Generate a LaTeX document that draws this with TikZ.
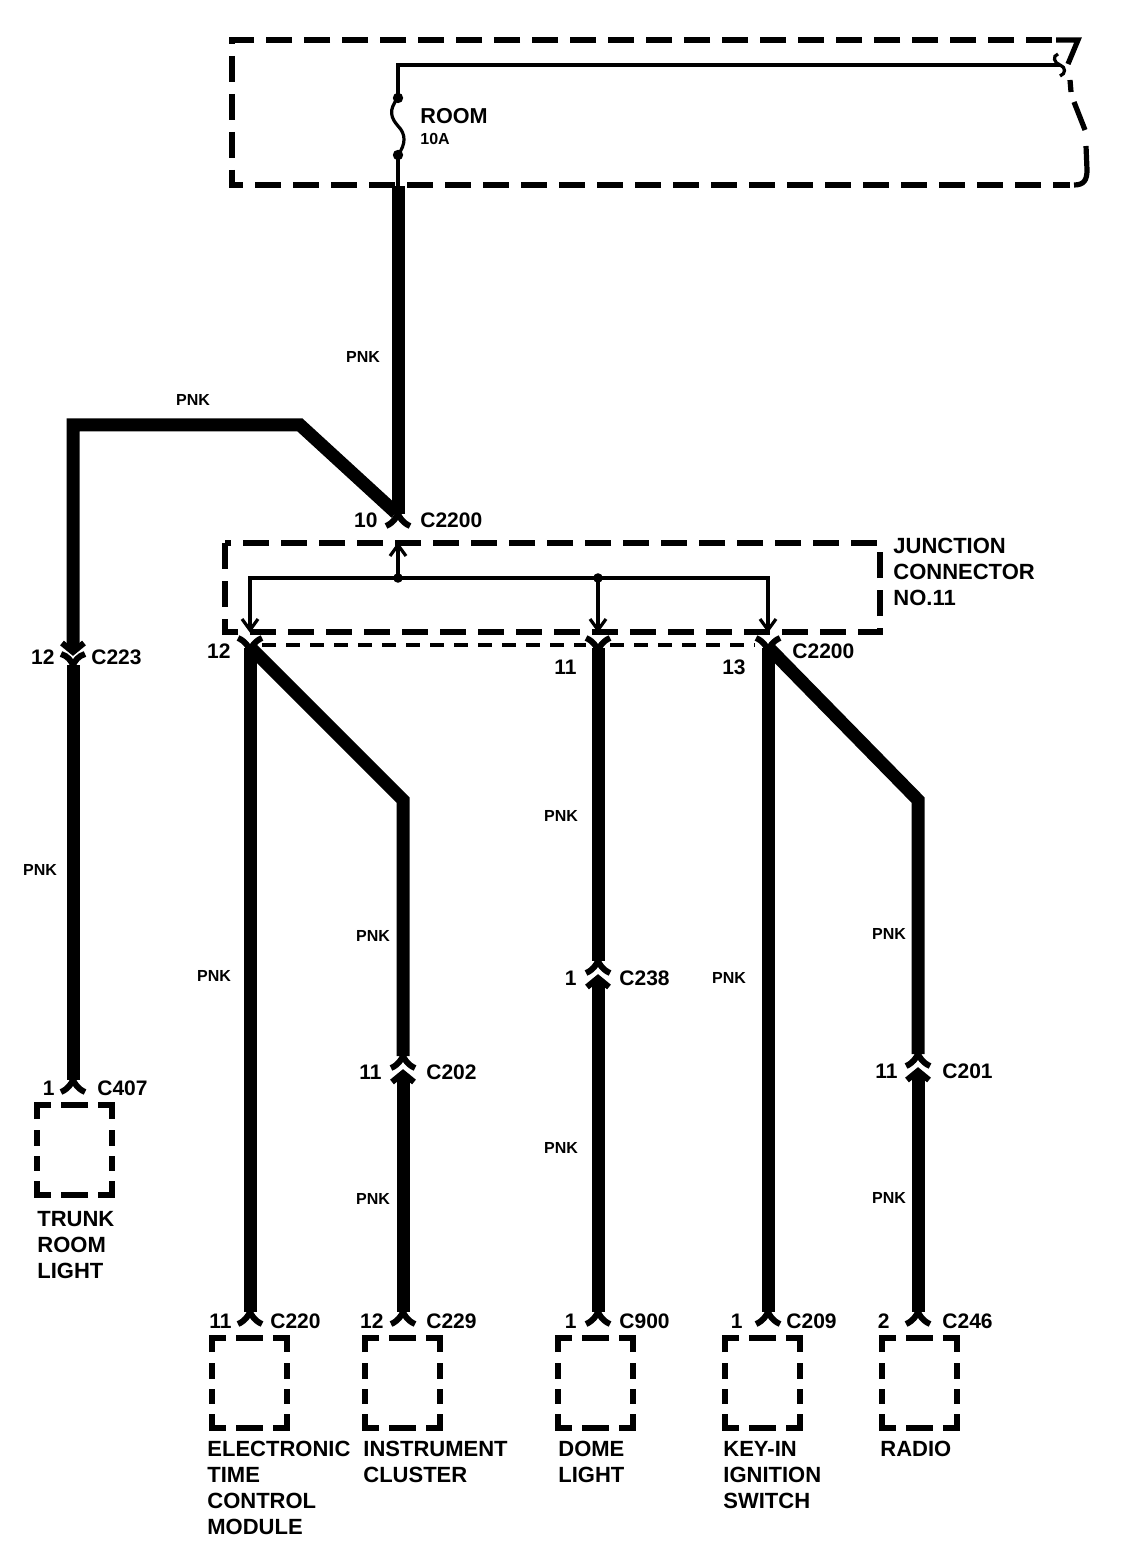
\documentclass[tikz,border=0pt]{standalone}
\usepackage{fontspec}
\setmainfont{Liberation Sans}
\begin{document}
\begin{tikzpicture}[x=0.5pt,y=-0.5pt,
  wire/.style={line width=6.5pt},
  thinwire/.style={line width=1.6pt},
  bigbox/.style={line width=2.6pt, dash pattern=on 13pt off 6pt},
  solidedge/.style={line width=2.6pt},
  conmark/.style={line width=3pt},
  shell/.style={line width=2.2pt, dash pattern=on 7pt off 5pt},
  tag/.style={font=\bfseries\fontsize{10.5}{12}\selectfont, inner sep=0pt},
  pnk/.style={font=\bfseries\fontsize{8}{9}\selectfont, inner sep=0pt, anchor=base},
  dev/.style={font=\bfseries\fontsize{11}{13}\selectfont, inner sep=0pt, anchor=base west},
  plugend/.pic={\draw[conmark] (-12,6) .. controls (-5,3) and (-2,-2) .. (0,-6) .. controls (2,-2) and (5,3) .. (12,6);},
  inlinea/.pic={
    \draw[conmark] (-12,-2) .. controls (-5,-5) and (-2,-10) .. (0,-14) .. controls (2,-10) and (5,-5) .. (12,-2);
    \draw[conmark, line join=miter] (-11,12) -- (0,3) -- (11,12);},
  inlineb/.pic={
    \draw[conmark, line join=miter] (-11,-12) -- (0,-3) -- (11,-12);
    \draw[conmark] (-12,-1) .. controls (-5,1) and (-2,6) .. (0,10) .. controls (2,6) and (5,1) .. (12,-1);},
  socket/.pic={\draw[conmark] (-12,-9) .. controls (-5,-6) and (-2,-1) .. (0,3) .. controls (2,-1) and (5,-6) .. (12,-9);},
  devbox/.pic={
    \draw[line width=2.8pt, line join=miter] (0,14) -- (0,0) -- (14,0);
    \draw[line width=2.8pt, line join=miter] (61,0) -- (75,0) -- (75,14);
    \draw[line width=2.8pt, line join=miter] (0,76) -- (0,90) -- (14,90);
    \draw[line width=2.8pt, line join=miter] (61,90) -- (75,90) -- (75,76);
    \draw[line width=2.8pt] (24,0) -- (51,0) (24,90) -- (51,90);
    \draw[line width=2.8pt] (0,25) -- (0,41) (0,51) -- (0,66);
    \draw[line width=2.8pt] (75,25) -- (75,41) (75,51) -- (75,66);},
  chevdown/.pic={\draw[thinwire, line join=miter] (-8,-11) -- (0,0) -- (8,-11);},
  chevup/.pic={\draw[thinwire, line join=miter] (-8,11) -- (0,0) -- (8,11);}
]
\useasboundingbox (0,0) rectangle (1120,1550);

% ---------- top fuse box ----------
\coordinate (busR) at (1060,65);
\coordinate (busL) at (398,65);
\coordinate (fuseA) at (398,98);
\coordinate (fuseB) at (398,155);
\coordinate (boxExit) at (398,186);
\coordinate (pinTen) at (398,514);

\draw[bigbox] (1052,40) -- (232,40) -- (232,185) -- (1070,185);
\draw[solidedge, line join=miter] (1056,40) -- (1078,40) -- (1068,64);
\draw[solidedge] (1070,80) -- (1071,92);
\draw[solidedge] (1074,102) -- (1085,130);
\draw[solidedge] (1086,146) -- (1087,170) .. controls (1087,180) and (1084,185) .. (1074,185);

\draw[thinwire] (busR) -- (busL) -- (fuseA);
\draw[thinwire] (1058,54) .. controls (1052,56) and (1054,63) .. (busR) .. controls (1066,67) and (1066,74) .. (1060,76);
\draw[thinwire] (fuseA) .. controls (388,110) and (391,118) .. (398,126) .. controls (406,134) and (406,144) .. (fuseB);
\draw[thinwire] (fuseB) -- (boxExit);
\fill (fuseA) circle[radius=2.6pt];
\fill (fuseB) circle[radius=2.6pt];
\node[dev, font=\bfseries\fontsize{10.8}{12}\selectfont] (room) at (420,124) {ROOM};
\node[dev, font=\bfseries\fontsize{8}{9}\selectfont] (tenA) at (420,145) {10A};

% ---------- feed wire ----------
\draw[wire] (boxExit) -- (pinTen);
\node[pnk] (p1) at (363,363) {PNK};
\pic at (398,520) {plugend};
\node[tag, anchor=base east] (c10n) at (378,528) {10};
\node[tag, anchor=base west] (c10c) at (420,528) {C2200};

% ---------- trunk branch ----------
\coordinate (tbA) at (396,513);
\coordinate (tbB) at (300,425);
\coordinate (tbC) at (73,425);
\coordinate (tbD) at (73,649);
\coordinate (tbE) at (73,665);
\coordinate (tbF) at (73,1080);
\draw[wire, line join=miter] (tbA) -- (tbB) -- (tbC) -- (tbD);
\node[pnk] (p2) at (193,406) {PNK};
\pic at (73,655) {inlineb};
\node[tag, anchor=base east] (c223n) at (55,664) {12};
\node[tag, anchor=base west] (c223c) at (91,664) {C223};
\draw[wire] (tbE) -- (tbF);
\node[pnk] (p3) at (40,875) {PNK};
\pic at (73,1086) {plugend};
\node[tag, anchor=base east] (c407n) at (55,1095) {1};
\node[tag, anchor=base west] (c407c) at (97,1095) {C407};
\pic at (37,1105) {devbox};
\node[dev] (t1) at (37,1226) {TRUNK};
\node[dev] (t2) at (37,1252) {ROOM};
\node[dev] (t3) at (37,1278) {LIGHT};

% ---------- junction connector ----------
\draw[bigbox] (225,543) rectangle (880,632);
\coordinate (jA) at (250,578);
\coordinate (jB) at (398,578);
\coordinate (jC) at (598,578);
\coordinate (jD) at (768,578);
\draw[thinwire] (250,629) -- (jA) -- (jD) -- (768,629);
\draw[thinwire] (jB) -- (398,546);
\draw[thinwire] (jC) -- (598,629);
\fill (jB) circle[radius=2.4pt];
\fill (jC) circle[radius=2.4pt];
\pic at (250,630) {chevdown};
\pic at (598,630) {chevdown};
\pic at (768,630) {chevdown};
\pic at (398,545) {chevup};
\node[dev] (j1) at (893,553) {JUNCTION};
\node[dev] (j2) at (893,579) {CONNECTOR};
\node[dev] (j3) at (893,605) {NO.11};

\draw[shell] (262,645) -- (586,645);
\draw[shell] (610,645) -- (755,645);
\pic at (250,647) {socket};
\pic at (598,647) {socket};
\pic at (768,647) {socket};
\node[tag, anchor=base east] (b12) at (231,658) {12};
\node[tag, anchor=base east] (b11) at (577,674) {11};
\node[tag, anchor=base east] (b13) at (746,674) {13};
\node[tag, anchor=base west] (bC) at (792,658) {C2200};

% ---------- ETCM ----------
\coordinate (eTop) at (250,648);
\coordinate (eBot) at (250,1312);
\draw[wire] (eTop) -- (eBot);
\node[pnk] (p4) at (214,981) {PNK};
\pic at (250,1318) {plugend};
\node[tag, anchor=base east] (c220n) at (232,1328) {11};
\node[tag, anchor=base west] (c220c) at (270,1328) {C220};
\pic at (212,1338) {devbox};
\node[dev] (e1) at (207,1456) {ELECTRONIC};
\node[dev] (e2) at (207,1482) {TIME};
\node[dev] (e3) at (207,1508) {CONTROL};
\node[dev] (e4) at (207,1534) {MODULE};

% ---------- instrument cluster ----------
\coordinate (iA) at (251,648);
\coordinate (iB) at (403,800);
\coordinate (iC) at (403,1056);
\coordinate (iD) at (403,1076);
\coordinate (iE) at (403,1312);
\draw[wire, line join=miter] (iA) -- (iB) -- (iC);
\node[pnk] (p5) at (373,941) {PNK};
\pic at (403,1070) {inlinea};
\node[tag, anchor=base east] (c202n) at (382,1079) {11};
\node[tag, anchor=base west] (c202c) at (426,1079) {C202};
\draw[wire] (iD) -- (iE);
\node[pnk] (p6) at (373,1204) {PNK};
\pic at (403,1318) {plugend};
\node[tag, anchor=base east] (c229n) at (384,1328) {12};
\node[tag, anchor=base west] (c229c) at (426,1328) {C229};
\pic at (365,1338) {devbox};
\node[dev] (i1) at (363,1456) {INSTRUMENT};
\node[dev] (i2) at (363,1482) {CLUSTER};

% ---------- dome light ----------
\coordinate (dA) at (598,648);
\coordinate (dB) at (598,961);
\coordinate (dC) at (598,981);
\coordinate (dD) at (598,1312);
\draw[wire] (dA) -- (dB);
\node[pnk] (p7) at (561,821) {PNK};
\pic at (598,975) {inlinea};
\node[tag, anchor=base east] (c238n) at (577,985) {1};
\node[tag, anchor=base west] (c238c) at (619,985) {C238};
\draw[wire] (dC) -- (dD);
\node[pnk] (p8) at (561,1153) {PNK};
\pic at (598,1318) {plugend};
\node[tag, anchor=base east] (c900n) at (577,1328) {1};
\node[tag, anchor=base west] (c900c) at (619,1328) {C900};
\pic at (558,1338) {devbox};
\node[dev] (d1) at (558,1456) {DOME};
\node[dev] (d2) at (558,1482) {LIGHT};

% ---------- key-in ignition switch ----------
\coordinate (kA) at (768,648);
\coordinate (kB) at (768,1312);
\draw[wire] (kA) -- (kB);
\node[pnk] (p9) at (729,983) {PNK};
\pic at (768,1318) {plugend};
\node[tag, anchor=base east] (c209n) at (743,1328) {1};
\node[tag, anchor=base west] (c209c) at (786,1328) {C209};
\pic at (725,1338) {devbox};
\node[dev] (k1) at (723,1456) {KEY-IN};
\node[dev] (k2) at (723,1482) {IGNITION};
\node[dev] (k3) at (723,1508) {SWITCH};

% ---------- radio ----------
\coordinate (rA) at (769,648);
\coordinate (rB) at (918,800);
\coordinate (rC) at (918,1054);
\coordinate (rD) at (918,1074);
\coordinate (rE) at (918,1312);
\draw[wire, line join=miter] (rA) -- (rB) -- (rC);
\node[pnk] (p10) at (889,939) {PNK};
\pic at (918,1068) {inlinea};
\node[tag, anchor=base east] (c201n) at (898,1078) {11};
\node[tag, anchor=base west] (c201c) at (942,1078) {C201};
\draw[wire] (rD) -- (rE);
\node[pnk] (p11) at (889,1203) {PNK};
\pic at (918,1318) {plugend};
\node[tag, anchor=base east] (c246n) at (890,1328) {2};
\node[tag, anchor=base west] (c246c) at (942,1328) {C246};
\pic at (882,1338) {devbox};
\node[dev] (r1) at (880,1456) {RADIO};
\end{tikzpicture}
\end{document}
